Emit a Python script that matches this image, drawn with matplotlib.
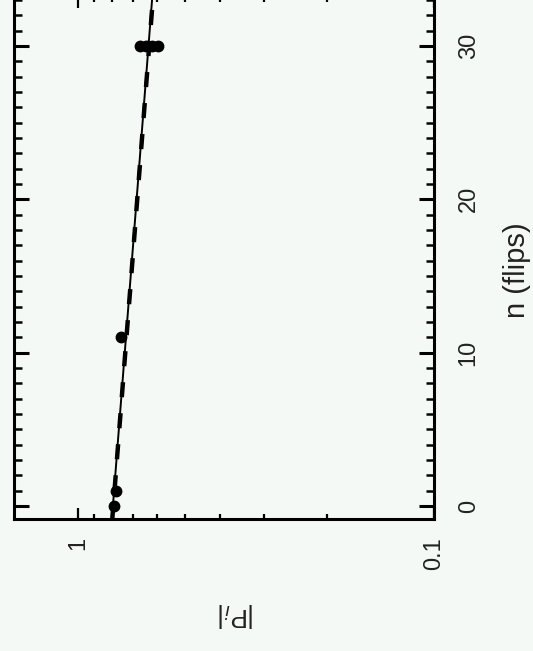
import matplotlib
matplotlib.use("Agg")
import matplotlib.pyplot as plt
from matplotlib.ticker import FixedLocator, FixedFormatter

# measured |P_i| against number of spin flips
flips = [0, 1, 11, 30, 30, 30, 30]
p_abs = [0.792, 0.779, 0.757, 0.667, 0.645, 0.620, 0.597]

# exponential fits (straight on the log axis), given by their end points
fit_n = [-1, 34]
fit_solid = [0.803, 0.614]
fit_dashed = [0.801, 0.611]

value_ticks = [0.1, 1]
value_tick_labels = ["0.1", "1"]
value_minor = [0.2, 0.3, 0.4, 0.5, 0.6, 0.7, 0.8, 0.9]
flip_ticks = [0, 10, 20, 30]

plt.rcParams["font.family"] = ["Liberation Sans", "DejaVu Sans"]
bg = "#f5f9f6"
ink = "#222222"

fig = plt.figure(figsize=(5.33, 6.51), dpi=100, facecolor=bg)
ax = fig.add_axes([0.0263, 0.2028, 0.788, 0.802])
ax.set_facecolor(bg)

# page is turned: log axis runs horizontally (reversed), flips run upward
ax.plot(fit_solid, fit_n, color="black", lw=1.4, zorder=2)
ax.plot(fit_dashed, fit_n, color="black", lw=3.2, dashes=(3.4, 3.6), zorder=2)
ax.plot(p_abs, flips, "o", color="black", ms=7.5, zorder=3)

ax.set_xscale("log")
ax.set_xlim(1.51, 0.1)
ax.set_ylim(-0.85, 33.2)

ax.xaxis.set_major_locator(FixedLocator(value_ticks))
ax.xaxis.set_major_formatter(FixedFormatter(value_tick_labels))
ax.xaxis.set_minor_locator(FixedLocator(value_minor))
ax.xaxis.set_minor_formatter(FixedFormatter([]))
ax.yaxis.set_major_locator(FixedLocator(flip_ticks))
ax.yaxis.set_minor_locator(FixedLocator(list(range(0, 34))))

ax.yaxis.tick_right()
ax.yaxis.set_label_position("right")

for s in ax.spines.values():
    s.set_linewidth(2.2)

ax.tick_params(axis="both", which="both", direction="in", top=True, bottom=True,
               left=True, right=True, colors="black", labelcolor=ink)
ax.tick_params(axis="y", which="major", length=11, width=2.2, pad=17,
               labelsize=17, labelrotation=90)
ax.tick_params(axis="y", which="minor", length=6, width=1.8)
ax.tick_params(axis="x", which="major", length=8, width=1.6, pad=13,
               labelsize=17, labelrotation=90)
ax.tick_params(axis="x", which="minor", length=3.5, width=1.6)

for lab in ax.get_yticklabels():
    lab.set_verticalalignment("center")

ax.set_ylabel("n (flips)", fontsize=21, color=ink, rotation=90,
              va="center", ha="center")
ax.yaxis.set_label_coords(1.198, 0.477)
fig.text(0.443, 0.055, "|P$_i$|", fontsize=19, color=ink, rotation=180,
         ha="center", va="center")

fig.savefig("out.png", dpi=100, facecolor=bg)
